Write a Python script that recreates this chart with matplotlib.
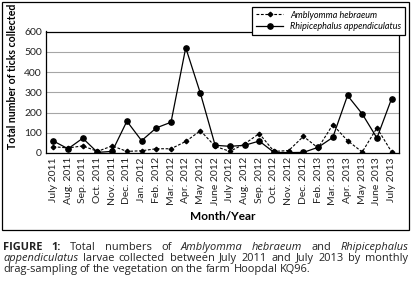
import numpy as np
import matplotlib
matplotlib.use("Agg")
from matplotlib import pyplot as plt
from matplotlib.patches import Rectangle
from matplotlib.backends.backend_agg import get_hinting_flag

months = ["July 2011", "Aug. 2011", "Sep. 2011", "Oct. 2011", "Nov. 2011", "Dec. 2011",
          "Jan. 2012", "Feb. 2012", "Mar. 2012", "Apr. 2012", "May 2012", "June 2012",
          "July 2012", "Aug. 2012", "Sep. 2012", "Oct. 2012", "Nov. 2012", "Dec. 2012",
          "Feb. 2013", "Mar. 2013", "Apr. 2013", "May 2013", "June 2013", "July 2013"]
amblyomma = [31, 25, 35, 8, 35, 8, 11, 21, 21, 57, 110, 33,
             8, 45, 96, 8, 12, 82, 25, 140, 61, 5, 124, 5]
rhipicephalus = [59, 21, 73, 3, 8, 157, 61, 124, 152, 520, 294, 38,
                 33, 38, 59, 3, 2, 3, 28, 77, 284, 193, 74, 269]

plt.rcParams["font.family"] = ["Lato", "DejaVu Sans"]

W, H = 411, 281
fig = plt.figure(figsize=(W / 100, H / 100), dpi=100)

# plot area, in pixels from the top left
ax = fig.add_axes([46 / W, 1 - 153 / H, 353 / W, 121.5 / H])
x = np.arange(len(months))
ax.plot(x, amblyomma, ls=(0, (2.5, 1.5)), color="black", lw=0.8,
        marker="D", ms=2.3, label="Amblyomma hebraeum")
ax.plot(x, rhipicephalus, "-", color="black", lw=0.9,
        marker="o", ms=3.8, label="Rhipicephalus appendiculatus")
ax.set_xlim(-0.5, len(months) - 0.5)
ax.set_ylim(0, 600)
ax.set_yticks(range(0, 601, 100))
ax.yaxis.grid(True, color="#a6a6a6", lw=0.8)
ax.set_axisbelow(True)
ax.set_xticks(x)
ax.set_xticklabels(months, rotation=90)
ax.tick_params(length=0, labelsize=7.5, pad=3, colors="#222222")
for s in ax.spines.values():
    s.set_linewidth(0.9)
ax.set_xlabel("Month/Year", fontsize=8.5, weight="bold", labelpad=4)
fig.text(13 / W, 1 - 76 / H, "Total number of ticks collected", rotation=90,
         fontsize=7.6, weight="bold", ha="center", va="center")

leg = fig.legend(loc="upper right", bbox_to_anchor=(405 / W, 1 - 7 / H),
                 bbox_transform=fig.transFigure, fancybox=False, framealpha=1,
                 edgecolor="black", prop={"style": "italic", "size": 6.5},
                 handlelength=3, borderpad=0.4, labelspacing=0.3, borderaxespad=0)
leg.get_frame().set_linewidth(0.9)

fig.add_artist(Rectangle((2 / W, 1 - 230 / H), 407 / W, 228 / H, fill=False,
                         lw=0.9, color="black", transform=fig.transFigure))

# caption, justified by hand
cap = [
    [("FIGURE", "bold"), ("1:", "bold"), ("Total", ""), ("numbers", ""), ("of", ""),
     ("Amblyomma", "it"), ("hebraeum", "it"), ("and", ""), ("Rhipicephalus", "it")],
    [("appendiculatus", "it"), ("larvae", ""), ("collected", ""), ("between", ""),
     ("July", ""), ("2011", ""), ("and", ""), ("July", ""), ("2013", ""), ("by", ""),
     ("monthly", "")],
    [("drag-sampling", ""), ("of", ""), ("the", ""), ("vegetation", ""), ("on", ""),
     ("the", ""), ("farm", ""), ("Hoopdal", ""), ("KQ96.", "")],
]
ys = [250, 261, 272]
fig.canvas.draw()
r = fig.canvas.get_renderer()


def baseline_shift(t):
    # nudge each word so agg's pixel rounding puts all baselines on the same row
    try:
        font = r._prepare_font(t.get_fontproperties())
        font.set_text(t.get_text(), 0, flags=get_hinting_flag())
        d = font.get_descent() / 64
        hh = font.get_width_height()[1] / 64
        return np.floor(hh) - np.floor(hh - d) - d
    except Exception:
        return 0.0


x0, x1 = 3, 408
for li, line in enumerate(cap):
    texts = []
    for w, st in line:
        t = fig.text(0, 1 - ys[li] / H, w, fontsize=7.9, family=["Open Sans", "DejaVu Sans"],
                     weight="bold" if st == "bold" else "normal",
                     style="italic" if st == "it" else "normal",
                     color="#222222", va="baseline", ha="left")
        texts.append(t)
    widths = [t.get_window_extent(r).width for t in texts]
    if li < len(cap) - 1:
        gap = (x1 - x0 - sum(widths)) / (len(texts) - 1)
    else:
        gap = 2.7
    pos = x0
    for t, wd in zip(texts, widths):
        t.set_x(pos / W)
        t.set_y(1 - (ys[li] + baseline_shift(t)) / H)
        pos += wd + gap

fig.savefig("out.png", dpi=100)
